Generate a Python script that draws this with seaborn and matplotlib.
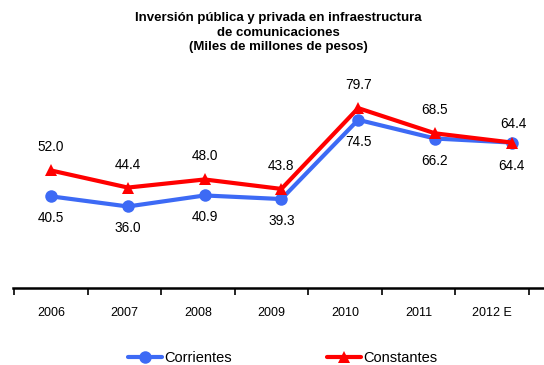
import numpy as np
import pandas as pd
import matplotlib
matplotlib.use('Agg')
import matplotlib.pyplot as plt
import seaborn as sns

# data
years = ['2006', '2007', '2008', '2009', '2010', '2011', '2012 E']
corrientes = [40.5, 36.0, 40.9, 39.3, 74.5, 66.2, 64.4]
constantes = [52.0, 44.4, 48.0, 43.8, 79.7, 68.5, 64.4]

df = pd.DataFrame({
    'x': list(range(len(years))) * 2,
    'valor': corrientes + constantes,
    'serie': ['Corrientes'] * len(years) + ['Constantes'] * len(years),
})

sns.set_style('white')
plt.rcParams['font.family'] = ['Liberation Sans', 'DejaVu Sans']
plt.rcParams['text.color'] = 'black'
plt.rcParams['xtick.color'] = 'black'

fig = plt.figure(figsize=(5.44, 3.65), dpi=100)
ax = fig.add_axes([0.024, 0.2123, 0.976, 0.555])

colors = {'Corrientes': '#3D6AF5', 'Constantes': '#FF0000'}
sns.lineplot(data=df, x='x', y='valor', hue='serie', style='serie',
             markers={'Corrientes': 'o', 'Constantes': '^'}, dashes=False,
             palette=colors, linewidth=3, markersize=9, markeredgewidth=0,
             ax=ax)

# value labels: red above, blue below (except the last year where they swap)
n = len(years)
for i in range(n):
    up_red, up_blue = 23, -22
    if i == n - 1:
        up_red, up_blue = -23, 19
    ax.annotate(f'{constantes[i]:.1f}', (i, constantes[i]), xytext=(0, up_red),
                textcoords='offset pixels', ha='center', va='center', fontsize=9.8,
                color='black')
    ax.annotate(f'{corrientes[i]:.1f}', (i, corrientes[i]), xytext=(2 if i == n - 1 else 0, up_blue),
                textcoords='offset pixels', ha='center', va='center', fontsize=9.8,
                color='black')

ax.set_ylim(0, 90)
ax.set_xlim(-0.495, 6.42)

# category axis is slightly compressed relative to the plotted points
k = 0.957
ax.set_xticks((np.arange(n + 1) - 0.5) * k)
ax.set_xticklabels([])
ax.set_xticks(np.arange(n) * k, minor=True)
ax.set_xticklabels(years, minor=True, fontsize=9)
ax.tick_params(axis='x', which='major', length=5, width=1.2, color='black', direction='out', bottom=True)
ax.tick_params(axis='x', which='minor', length=0, pad=14, labelcolor='black')
ax.set_yticks([])
ax.set_xlabel('')
ax.set_ylabel('')

for s in ['left', 'top', 'right']:
    ax.spines[s].set_visible(False)
ax.spines['bottom'].set_color('black')
ax.spines['bottom'].set_linewidth(1.8)

fig.text(0.512, 0.966, 'Inversión pública y privada en infraestructura\nde comunicaciones\n(Miles de millones de pesos)',
         ha='center', va='top', fontsize=9.5, fontweight='bold', linespacing=1.25,
         color='black')

handles, labels = ax.get_legend_handles_labels()
ax.get_legend().remove()
leg = fig.legend(handles, labels, loc='lower center', bbox_to_anchor=(0.52, -0.037), ncol=2,
                 frameon=False, fontsize=10.5, columnspacing=6.5, handlelength=2.3,
                 handletextpad=0.2)
for t in leg.get_texts():
    t.set_color('black')

fig.savefig('out.png', dpi=100)
